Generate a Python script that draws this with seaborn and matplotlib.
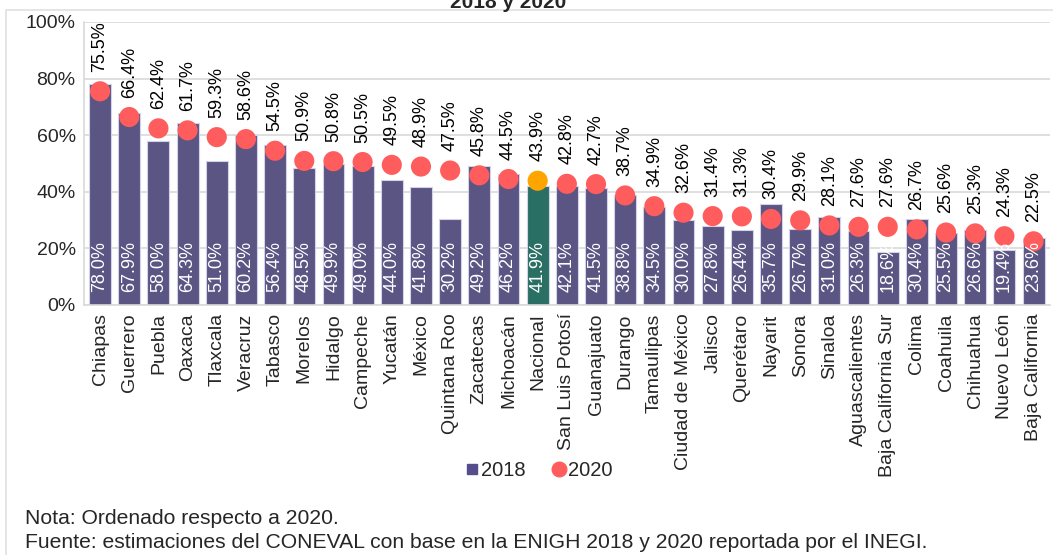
import numpy as np
import matplotlib
matplotlib.use("Agg")
import matplotlib.pyplot as plt
from matplotlib.lines import Line2D
from matplotlib.patches import Rectangle
from matplotlib.ticker import FuncFormatter
import seaborn as sns

# data (percent)
states = ["Chiapas", "Guerrero", "Puebla", "Oaxaca", "Tlaxcala", "Veracruz",
          "Tabasco", "Morelos", "Hidalgo", "Campeche", "Yucatán", "México",
          "Quintana Roo", "Zacatecas", "Michoacán", "Nacional", "San Luis Potosí",
          "Guanajuato", "Durango", "Tamaulipas", "Ciudad de México", "Jalisco",
          "Querétaro", "Nayarit", "Sonora", "Sinaloa", "Aguascalientes",
          "Baja California Sur", "Colima", "Coahuila", "Chihuahua", "Nuevo León",
          "Baja California"]
pct_2018 = [78.0, 67.9, 58.0, 64.3, 51.0, 60.2, 56.4, 48.5, 49.9, 49.0, 44.0,
            41.8, 30.2, 49.2, 46.2, 41.9, 42.1, 41.5, 38.8, 34.5, 30.0, 27.8,
            26.4, 35.7, 26.7, 31.0, 26.3, 18.6, 30.4, 25.5, 26.6, 19.4, 23.6]
pct_2020 = [75.5, 66.4, 62.4, 61.7, 59.3, 58.6, 54.5, 50.9, 50.8, 50.5, 49.5,
            48.9, 47.5, 45.8, 44.5, 43.9, 42.8, 42.7, 38.7, 34.9, 32.6, 31.4,
            31.3, 30.4, 29.9, 28.1, 27.6, 27.6, 26.7, 25.6, 25.3, 24.3, 22.5]
highlight = "Nacional"

purple = "#554d8c"
green = "#1e7b6c"
red = "#ff5d5d"
orange = "#ffa500"

sns.set_style("white")
plt.rcParams["font.family"] = ["Liberation Sans", "DejaVu Sans"]

fig = plt.figure(figsize=(10.53, 5.55), dpi=100)
ax = fig.add_axes([0.0798, 0.4505, 0.917, 0.51])

n = len(states)
xs = np.arange(n)
bar_cols = [green if s == highlight else purple for s in states]
dot_cols = [orange if s == highlight else red for s in states]

sns.barplot(x=xs, y=pct_2018, hue=xs, palette=bar_cols, legend=False,
            width=0.75, edgecolor="#d4d2ea", linewidth=0.8, ax=ax, zorder=2)
sns.scatterplot(x=xs, y=pct_2020, hue=xs, palette=dot_cols, legend=False,
                s=210, linewidth=0, ax=ax, zorder=3)

# labels
for i in range(n):
    ax.text(i, 4.5, f"{pct_2018[i]:.1f}%", rotation=90, ha="center", va="bottom",
            color="white", fontsize=13, zorder=4)
    ax.annotate(f"{pct_2020[i]:.1f}%", (i, pct_2020[i]), xytext=(0, 14),
                textcoords="offset points", rotation=90, ha="center", va="bottom",
                fontsize=13, color="black", zorder=4)

ax.set_xlim(-0.55, n - 0.45)
ax.set_ylim(0, 100)
ax.set_yticks([0, 20, 40, 60, 80, 100])
ax.yaxis.set_major_formatter(FuncFormatter(lambda v, p: f"{v:.0f}%"))
ax.set_xticks(xs)
ax.set_xticklabels(states, rotation=90)
ax.tick_params(axis="both", labelsize=14, length=0, pad=6)
ax.yaxis.grid(True, color="#d9d9d9", linewidth=1.2, zorder=0)
ax.set_axisbelow(True)
for side in ["top", "right"]:
    ax.spines[side].set_visible(False)
for side in ["left", "bottom"]:
    ax.spines[side].set_color("#d9d9d9")
    ax.spines[side].set_linewidth(1.2)

handles = [Line2D([], [], marker="s", color=purple, linestyle="none", markersize=7.5),
           Line2D([], [], marker="o", color=red, linestyle="none", markersize=10.5)]
fig.legend(handles, ["2018", "2020"], loc="center", bbox_to_anchor=(0.508, 0.152),
           ncol=2, frameon=False, fontsize=14.5, handletextpad=-0.3,
           columnspacing=0.9, handlelength=1.5)

# title cut off at the top of the frame
fig.text(0.483, 1 - 8 / 555, "2018 y 2020", ha="center", va="baseline",
         fontsize=15, fontweight="bold")
fig.patches.append(Rectangle((6 / 1053, -0.1), 1.1, 1 - 10 / 555 + 0.1,
                             transform=fig.transFigure, fill=False,
                             edgecolor="#e0e0e0", linewidth=1.2))

fig.text(25 / 1053, 1 - 518 / 555, "Nota: Ordenado respecto a 2020.",
         fontsize=15.2, va="center")
fig.text(25 / 1053, 1 - 543 / 555,
         "Fuente: estimaciones del CONEVAL con base en la ENIGH 2018 y 2020 reportada por el INEGI.",
         fontsize=15.2, va="center")

fig.savefig("out.png", dpi=100)
